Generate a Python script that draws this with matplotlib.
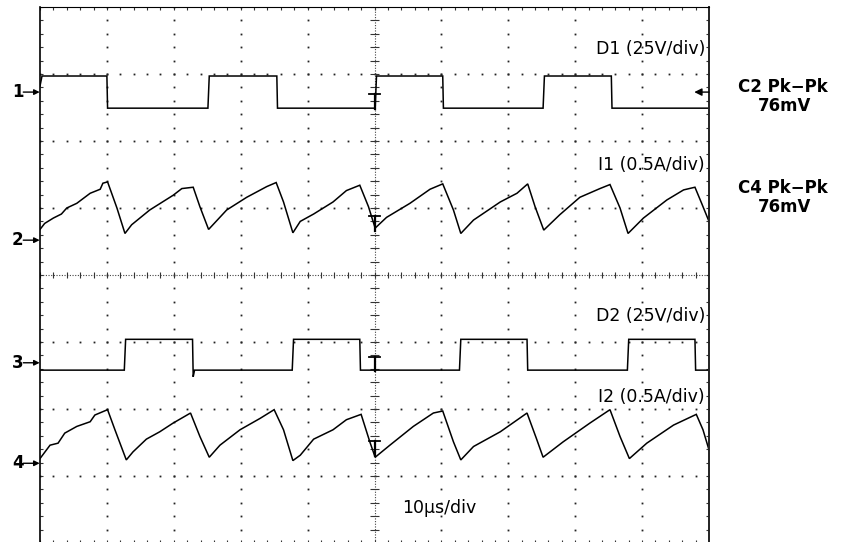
import matplotlib
matplotlib.use("Agg")
import matplotlib.pyplot as plt
import numpy as np

# Screen coordinates: time in divisions (10 µs/div), amplitude in divisions (8 tall)
d1_t = [0.00, 0.03, 1.00, 1.01, 2.51, 2.53, 3.54, 3.55, 5.01, 5.03,
        6.02, 6.03, 7.52, 7.54, 8.54, 8.55, 10.00]
d1_v = [6.82, 6.97, 6.97, 6.49, 6.49, 6.97, 6.97, 6.49, 6.49, 6.97,
        6.97, 6.49, 6.49, 6.97, 6.97, 6.49, 6.49]

d2_t = [0.00, 1.26, 1.28, 2.28, 2.29, 2.31, 3.77, 3.79, 4.78, 4.79,
        6.27, 6.29, 7.28, 7.29, 8.78, 8.80, 9.79, 9.80, 10.00]
d2_v = [2.58, 2.58, 3.04, 3.04, 2.48, 2.58, 2.58, 3.04, 3.04, 2.58,
        2.58, 3.04, 3.04, 2.58, 2.58, 3.04, 3.04, 2.58, 2.58]

i1_t = [0.00, 0.07, 0.20, 0.32, 0.40, 0.55, 0.75, 0.90, 0.94, 1.01,
        1.15, 1.27, 1.37, 1.64, 1.99, 2.12, 2.29, 2.39, 2.52, 2.79,
        3.09, 3.39, 3.53, 3.64, 3.78, 3.89, 4.09, 4.38, 4.58, 4.78,
        4.91, 5.01, 5.18, 5.53, 5.83, 6.02, 6.18, 6.29, 6.48, 6.88,
        7.13, 7.29, 7.40, 7.53, 7.77, 8.07, 8.37, 8.52, 8.67, 8.79,
        9.02, 9.37, 9.62, 9.79, 9.89, 10.00]
i1_v = [4.68, 4.77, 4.85, 4.91, 5.00, 5.07, 5.22, 5.28, 5.37, 5.39,
        5.00, 4.62, 4.75, 4.97, 5.19, 5.29, 5.31, 5.02, 4.68, 4.97,
        5.16, 5.32, 5.38, 5.09, 4.63, 4.80, 4.91, 5.09, 5.26, 5.34,
        5.02, 4.70, 4.86, 5.07, 5.28, 5.36, 4.97, 4.62, 4.82, 5.09,
        5.22, 5.36, 5.02, 4.67, 4.90, 5.16, 5.29, 5.35, 5.00, 4.62,
        4.85, 5.12, 5.27, 5.31, 5.07, 4.80]

i2_t = [0.00, 0.15, 0.27, 0.37, 0.55, 0.75, 0.82, 1.01, 1.12, 1.29,
        1.39, 1.59, 1.79, 1.99, 2.25, 2.39, 2.53, 2.69, 2.99, 3.29,
        3.50, 3.64, 3.78, 3.89, 4.09, 4.38, 4.58, 4.80, 4.93, 5.01,
        5.23, 5.58, 5.88, 6.02, 6.18, 6.29, 6.48, 6.88, 7.28, 7.42,
        7.52, 7.82, 8.22, 8.52, 8.67, 8.81, 9.07, 9.47, 9.81, 9.91,
        10.00]
i2_v = [1.26, 1.46, 1.49, 1.64, 1.74, 1.81, 1.91, 1.99, 1.69, 1.24,
        1.36, 1.55, 1.66, 1.79, 1.94, 1.59, 1.28, 1.46, 1.69, 1.86,
        1.99, 1.69, 1.23, 1.31, 1.55, 1.69, 1.84, 1.92, 1.51, 1.28,
        1.46, 1.74, 1.94, 1.97, 1.51, 1.24, 1.44, 1.66, 1.94, 1.56,
        1.28, 1.51, 1.79, 1.99, 1.59, 1.26, 1.49, 1.76, 1.92, 1.69,
        1.39]

channel_ids = ["1", "2", "3", "4"]
channel_levels = [6.73, 4.52, 2.69, 1.19]

trace_names = ["D1 (25V/div)", "I1 (0.5A/div)", "D2 (25V/div)", "I2 (0.5A/div)"]
name_levels = [7.37, 5.64, 3.39, 2.18]

trigger_levels = [6.70, 4.88, 2.78, 1.52]
timebase = "10µs/div"
measurements = [("C2 Pk\u2212Pk", "76mV"), ("C4 Pk\u2212Pk", "76mV")]

W, H = 844, 542
fig = plt.figure(figsize=(W / 100, H / 100), dpi=100)
fig.patch.set_facecolor("white")
ax = fig.add_axes([40 / W, 1 - 543 / H, 669 / W, 536 / H])
ax.set_xlim(0, 10)
ax.set_ylim(0, 8)
ax.set_xticks([])
ax.set_yticks([])
ax.spines["left"].set_linewidth(1.2)
ax.spines["top"].set_linewidth(0.8)
ax.spines["right"].set_linewidth(1.4)
ax.spines["right"].set_color("#222222")
ax.spines["bottom"].set_visible(False)

# graticule
sx = np.round(np.arange(0, 10.0001, 0.2), 3)
sy = np.round(np.arange(0, 8.0001, 0.2), 3)
dot = dict(ls="none", marker="s", ms=1.3, mew=0, color="#222222")
for gx in range(1, 10):
    if gx != 5:
        ax.plot(np.full_like(sy, gx), sy, **dot)
for gy in range(1, 8):
    if gy != 4:
        ax.plot(sx, np.full_like(sx, gy), **dot)
ax.axhline(4, ls=(0, (1, 1.4)), lw=0.8, color="#444444")
ax.axvline(5, ls=(0, (1, 1.4)), lw=0.8, color="#444444")
tick = dict(lw=0.8, color="#333333")
ax.vlines(sx, 4 - 0.05, 4 + 0.05, **tick)
ax.hlines(sy, 5 - 0.07, 5 + 0.07, **tick)
ax.vlines(sx, 8 - 0.05, 8, **tick)
ax.vlines(sx, 0, 0.05, **tick)
ax.hlines(sy, 0, 0.05, **tick)
ax.hlines(sy, 10 - 0.05, 10, **tick)

# waveforms
for t, v in [(d1_t, d1_v), (i1_t, i1_v), (d2_t, d2_v), (i2_t, i2_v)]:
    ax.plot(t, v, color="black", lw=1.1, solid_joinstyle="miter")

# trigger position marks
for lv in trigger_levels:
    ax.plot([4.92, 5.08], [lv, lv], color="black", lw=1.3)
    ax.plot([5.0, 5.0], [lv, lv - 0.22], color="black", lw=1.6)

# channel ground markers on the left edge
for cid, lv in zip(channel_ids, channel_levels):
    ax.text(-0.33, lv, cid, ha="center", va="center", fontsize=12,
            fontweight="bold", family="DejaVu Sans", clip_on=False)
    ax.annotate("", xy=(-0.005, lv), xytext=(-0.25, lv),
                arrowprops=dict(arrowstyle="-|>", lw=1.0, color="black",
                                mutation_scale=8, shrinkA=0, shrinkB=0),
                annotation_clip=False)

# cursor arrow on the right edge
ax.annotate("", xy=(9.78, channel_levels[0]), xytext=(10.0, channel_levels[0]),
            arrowprops=dict(arrowstyle="-|>", lw=1.0, color="black",
                            mutation_scale=11, shrinkA=0, shrinkB=0),
            annotation_clip=False)

for name, lv in zip(trace_names, name_levels):
    ax.text(9.94, lv, name, ha="right", va="center", fontsize=12.5,
            family="DejaVu Sans", color="black")
ax.text(5.41, 0.52, timebase, ha="left", va="center", fontsize=12.5,
        family="DejaVu Sans", color="black")

meas_y = [(87, 106), (188, 207)]
for (l1, l2), (y1, y2) in zip(measurements, meas_y):
    fig.text(783 / W, 1 - y1 / H, l1, ha="center", va="center", fontsize=12,
             fontweight="bold", family="DejaVu Sans")
    fig.text(785 / W, 1 - y2 / H, l2, ha="center", va="center", fontsize=12,
             fontweight="bold", family="DejaVu Sans")

fig.savefig("out.png", dpi=100, facecolor="white")
